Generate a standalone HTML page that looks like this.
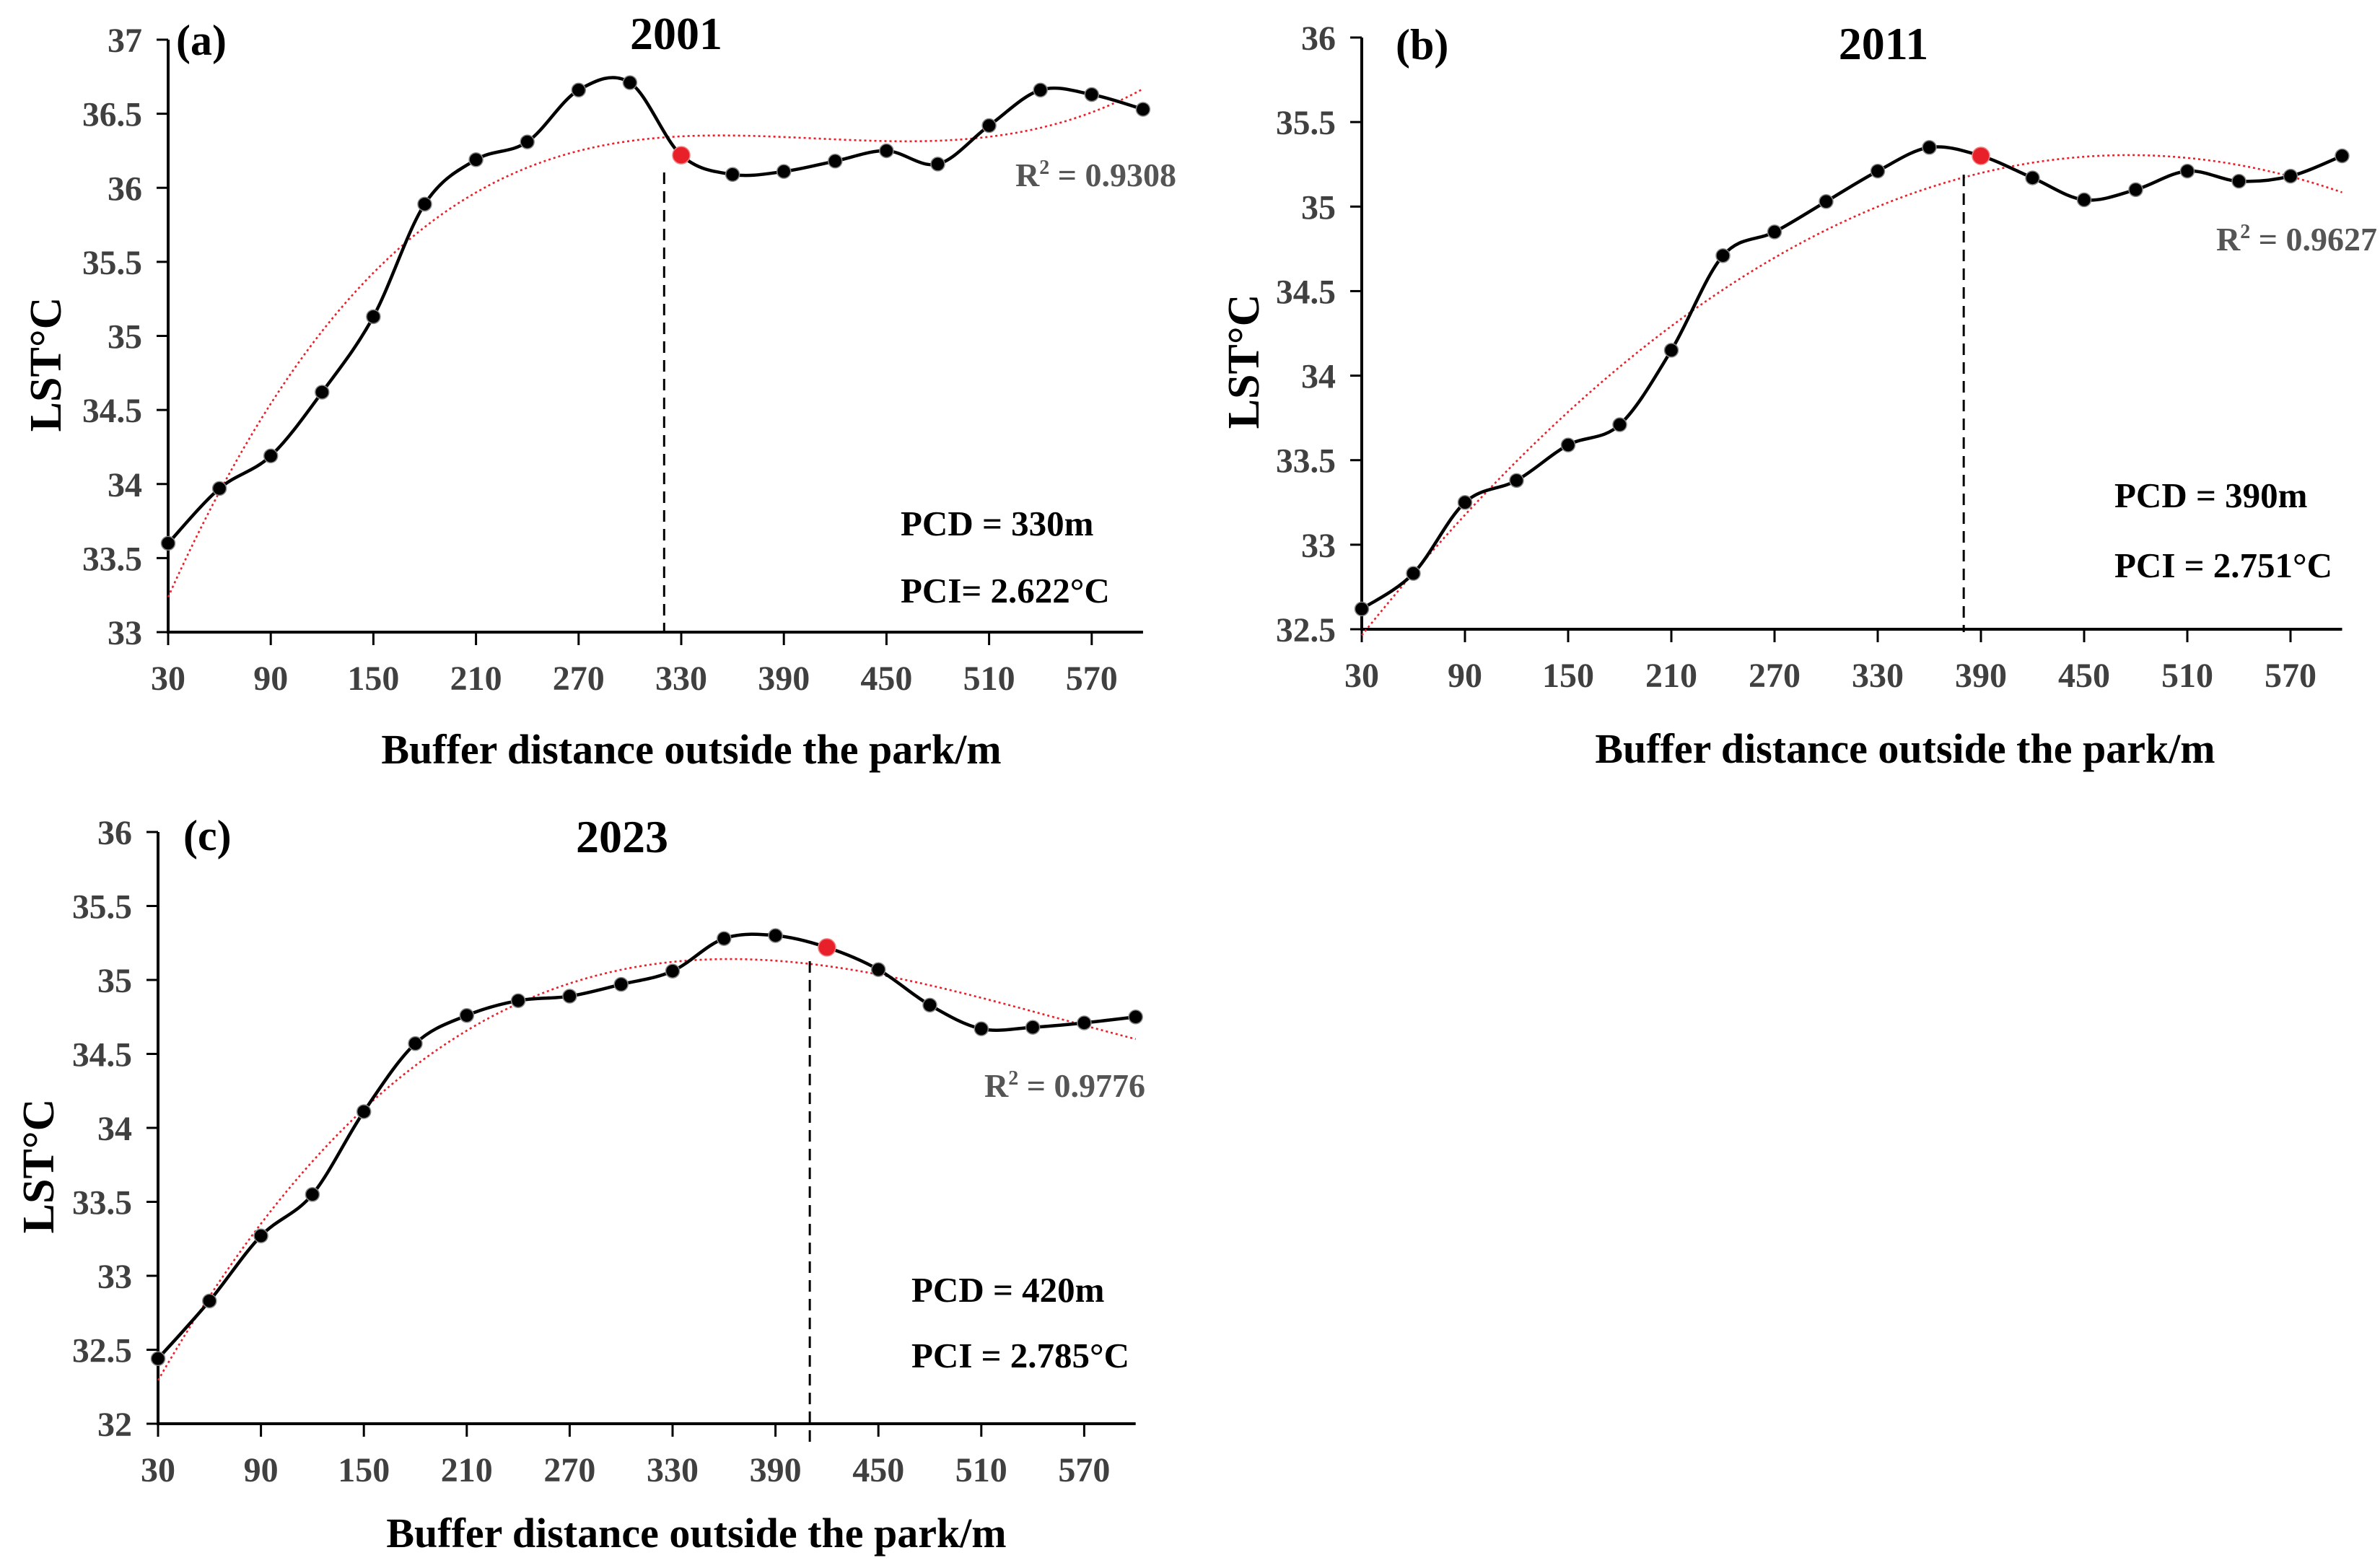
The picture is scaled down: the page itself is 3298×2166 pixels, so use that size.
<!DOCTYPE html>
<html><head><meta charset="utf-8">
<style>
html,body{margin:0;padding:0;background:#fff;}
svg{display:block;}
text{font-family:"Liberation Serif","Times New Roman",serif;}
</style></head>
<body>
<svg id="fig" width="3298" height="2166" viewBox="0 0 3298 2166" xmlns="http://www.w3.org/2000/svg"></svg>
<script>
// ---- data ----
const distances = [30,60,90,120,150,180,210,240,270,300,330,360,390,420,450,480,510,540,570,600];
const xTickLabels = [30,90,150,210,270,330,390,450,510,570];
const lst2001 = [33.6,33.97,34.19,34.62,35.13,35.89,36.19,36.31,36.66,36.71,36.22,36.09,36.11,36.18,36.25,36.16,36.42,36.66,36.63,36.53];
const lst2011 = [32.62,32.83,33.25,33.38,33.59,33.71,34.15,34.71,34.85,35.03,35.21,35.35,35.3,35.17,35.04,35.1,35.21,35.15,35.18,35.3];
const lst2023 = [32.44,32.83,33.27,33.55,34.11,34.57,34.76,34.86,34.89,34.97,35.06,35.28,35.3,35.22,35.07,34.83,34.67,34.68,34.71,34.75];
const yTicks2001 = [33,33.5,34,34.5,35,35.5,36,36.5,37];
const yTicks2011 = [32.5,33,33.5,34,34.5,35,35.5,36];
const yTicks2023 = [32,32.5,33,33.5,34,34.5,35,35.5,36];
const pcd = [330,390,420];
const dashX = [320,380,410];
const r2 = ["0.9308","0.9627","0.9776"];
const pci = ["PCI= 2.622°C","PCI = 2.751°C","PCI = 2.785°C"];

const NS="http://www.w3.org/2000/svg";
const svg=document.getElementById('fig');
function mk(tag,attrs,parent){const e=document.createElementNS(NS,tag);for(const k in attrs)e.setAttribute(k,attrs[k]);(parent||svg).appendChild(e);return e;}
function tlen(s){let w=0;for(const ch of s){w+=(ch==='.'?11:24);}return w;}

function polyfit(xs,ys,deg){
  const n=deg+1;const A=[];for(let i=0;i<n;i++){A.push(new Array(n+1).fill(0));}
  for(let k=0;k<xs.length;k++){const x=xs[k];for(let i=0;i<n;i++){for(let j=0;j<n;j++)A[i][j]+=Math.pow(x,i+j);A[i][n]+=ys[k]*Math.pow(x,i);}}
  for(let i=0;i<n;i++){let p=i;for(let r=i+1;r<n;r++)if(Math.abs(A[r][i])>Math.abs(A[p][i]))p=r;[A[i],A[p]]=[A[p],A[i]];
    for(let r=0;r<n;r++){if(r===i)continue;const f=A[r][i]/A[i][i];for(let c=i;c<=n;c++)A[r][c]-=f*A[i][c];}}
  return A.map((row,i)=>row[n]/row[i]);
}
function smoothPath(pts){
  let d=`M${pts[0][0]},${pts[0][1]}`;
  for(let i=0;i<pts.length-1;i++){
    const p0=pts[Math.max(0,i-1)],p1=pts[i],p2=pts[i+1],p3=pts[Math.min(pts.length-1,i+2)];
    const c1=[p1[0]+(p2[0]-p0[0])/6,p1[1]+(p2[1]-p0[1])/6];
    const c2=[p2[0]-(p3[0]-p1[0])/6,p2[1]-(p3[1]-p1[1])/6];
    d+=` C${c1[0]},${c1[1]} ${c2[0]},${c2[1]} ${p2[0]},${p2[1]}`;
  }
  return d;
}

function panel(cfg){
  const g=mk('g',{});
  
  
  const yMin=cfg.yTicks[0],yMax=cfg.yTicks[cfg.yTicks.length-1];
  const sx=v=>cfg.x0+(v-30)/30*cfg.step;
  const sy=v=>cfg.yBot-(v-yMin)/(yMax-yMin)*(cfg.yBot-cfg.yTop);
  const xEnd=sx(600);
  const ya=mk('line',{x1:cfg.x0,y1:cfg.yTop,x2:cfg.x0,y2:cfg.yBot,stroke:'#000','stroke-width':4},g);
  
  
  const xa=mk('line',{x1:cfg.x0-2,y1:cfg.yBot,x2:xEnd,y2:cfg.yBot,stroke:'#000','stroke-width':4},g);
  
  
  cfg.yTicks.forEach(v=>{
    const y=sy(v);
    const t=mk('line',{x1:cfg.x0-16,y1:y,x2:cfg.x0,y2:y,stroke:'#000','stroke-width':3},g);
    
    
    const s=String(v);
    const l=mk('text',{x:cfg.x0-36-tlen(s),y:y+17,'font-size':48,'font-weight':'bold',fill:'#404040',textLength:tlen(s),lengthAdjust:'spacingAndGlyphs'},g);
    
    
    l.textContent=s;
  });
  xTickLabels.forEach(v=>{
    const x=sx(v);
    const t=mk('line',{x1:x,y1:cfg.yBot,x2:x,y2:cfg.yBot+18,stroke:'#000','stroke-width':3},g);
    
    
    const s=String(v);
    const l=mk('text',{x:x-tlen(s)/2,y:cfg.yBot+80,'font-size':48,'font-weight':'bold',fill:'#404040',textLength:tlen(s),lengthAdjust:'spacingAndGlyphs'},g);
    
    
    l.textContent=s;
  });
  const xn=distances.map(v=>(v-315)/285);
  const co=polyfit(xn,cfg.vals,3);
  const tp=[];for(let v=30;v<=600;v+=5){const u=(v-315)/285;let s=0;co.forEach((c,i)=>s+=c*Math.pow(u,i));tp.push([sx(v),sy(s)]);}
  const tr=mk('path',{d:'M'+tp.map(p=>p.join(',')).join(' L'),fill:'none',stroke:'#e8202a','stroke-width':2.6,'stroke-dasharray':'3 4'},g);
  
  
  const dl=mk('line',{x1:sx(cfg.dashX),y1:cfg.dashTop,x2:sx(cfg.dashX),y2:cfg.dashBot,stroke:'#000','stroke-width':3,'stroke-dasharray':'16 10'},g);
  
  
  const pts=distances.map((d,i)=>[sx(d),sy(cfg.vals[i])]);
  const ln=mk('path',{d:smoothPath(pts),fill:'none',stroke:'#000','stroke-width':4.5},g);
  
  
  distances.forEach((d,i)=>{
    const red=d===cfg.pcd;
    const c=mk('circle',{cx:pts[i][0],cy:pts[i][1],r:red?12:9.5,fill:red?'#e8202a':'#000',stroke:red?'#f08080':'#888','stroke-width':1.5},g);
    
    
  });
  function txt(name,x,y,s,attrs){const t=mk('text',Object.assign({x:x,y:y},attrs),g);t.textContent=s;return t;}
  txt('panel-label',cfg.labX,cfg.labY,cfg.lab,{'font-size':60,'font-weight':'bold'});
  txt('chart-title',cfg.titleX,cfg.titleY,cfg.title,{'font-size':64,'font-weight':'bold','text-anchor':'middle'});
  const r=txt('r-squared',cfg.r2X,cfg.r2Y,'',{'font-size':46,'font-weight':'bold','text-anchor':'end',fill:'#555'});
  r.innerHTML='R<tspan dy="-17" font-size="28">2</tspan><tspan dy="17"> = '+cfg.r2+'</tspan>';
  txt('pcd-label',cfg.pcdX,cfg.pcdY,'PCD = '+cfg.pcd+'m',{'font-size':49,'font-weight':'bold'});
  txt('pci-label',cfg.pcdX,cfg.pciY,cfg.pci,{'font-size':49,'font-weight':'bold'});
  txt('x-axis-title',cfg.xtX,cfg.xtY,'Buffer distance outside the park/m',{'font-size':58,'font-weight':'bold','text-anchor':'middle'});
  txt('y-axis-title',0,0,'LST°C',{'font-size':62,'font-weight':'bold','text-anchor':'middle',transform:`translate(${cfg.ytX+21},${cfg.ytY}) rotate(-90)`});
}

panel({name:'panel-2001',vals:lst2001,yTicks:yTicks2001,x0:233,step:71.1,yTop:55,yBot:876,pcd:pcd[0],dashX:dashX[0],dashTop:239,dashBot:876,
  lab:'(a)',labX:244,labY:76,title:'2001',titleX:937,titleY:68,r2:r2[0],r2X:1630,r2Y:258,pcdX:1248,pcdY:742,pciY:835,pci:pci[0],xtX:958,xtY:1058,ytX:63,ytY:505});
panel({name:'panel-2011',vals:lst2011,yTicks:yTicks2011,x0:1887,step:71.5,yTop:52,yBot:872,pcd:pcd[1],dashX:dashX[1],dashTop:242,dashBot:876,
  lab:'(b)',labX:1934,labY:82,title:'2011',titleX:2610,titleY:82,r2:r2[1],r2X:3294,r2Y:347,pcdX:2930,pcdY:703,pciY:800,pci:pci[1],xtX:2640,xtY:1057,ytX:1723,ytY:501});
panel({name:'panel-2023',vals:lst2023,yTicks:yTicks2023,x0:219,step:71.3,yTop:1153,yBot:1973,pcd:pcd[2],dashX:dashX[2],dashTop:1332,dashBot:1998,
  lab:'(c)',labX:254,labY:1178,title:'2023',titleX:862,titleY:1181,r2:r2[2],r2X:1587,r2Y:1520,pcdX:1263,pcdY:1804,pciY:1895,pci:pci[2],xtX:965,xtY:2144,ytX:53,ytY:1616});
</script>
</body></html>
